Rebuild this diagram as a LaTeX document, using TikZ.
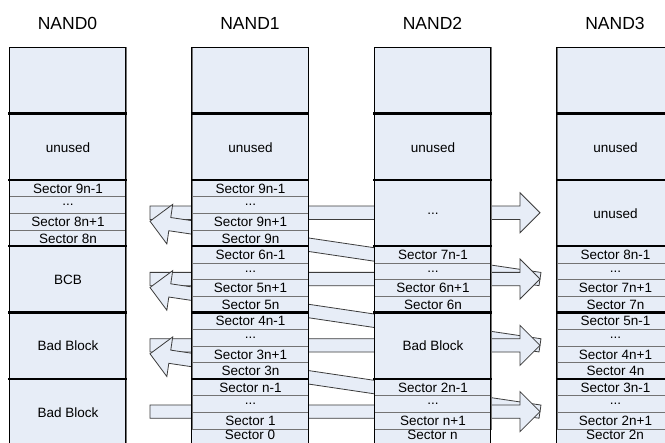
\documentclass[tikz,border=0pt]{standalone}
\usepackage{fontspec}
\setmainfont{Liberation Sans}
\usetikzlibrary{calc}
\definecolor{cellblue}{RGB}{231,237,247}
\definecolor{rowgray}{RGB}{115,115,115}
\definecolor{arrowgray}{RGB}{60,60,60}
\newcommand\secfont{\fontsize{13.5}{14}\selectfont}
\newcommand\labfont{\fontsize{17.5}{18}\selectfont}
\tikzset{
  cell/.style={draw=rowgray, line width=0.9pt, fill=cellblue, minimum width=116.4pt,
    minimum height=16.575pt, inner sep=0pt, anchor=north west, font=\secfont},
  bigcell/.style={cell, minimum height=66.3pt},
  celltext/.style={inner sep=0pt, font=\secfont},
  colframe/.style={draw=black, line width=0.9pt},
  blockline/.style={draw=black, line width=2.2pt},
  fatarrowsty/.style={fill=cellblue, draw=arrowgray, line width=0.8pt, line join=miter},
  nandlabel/.style={font=\labfont, inner sep=0pt}
}
% fat block arrow from #2 to #3, helper coordinate prefix #1
\newcommand\fatarrow[3]{%
  \coordinate (#1base) at ($(#3)!20pt!(#2)$);
  \draw[fatarrowsty] ($(#2)!6.67pt!90:(#3)$) -- ($(#1base)!6.67pt!90:(#3)$)
    -- ($(#1base)!20pt!90:(#3)$) -- (#3) -- ($(#1base)!20pt!-90:(#3)$)
    -- ($(#1base)!6.67pt!-90:(#3)$) -- ($(#2)!6.67pt!-90:(#3)$) -- cycle;
}
\newcommand\bigblk[4]{% name, col, block, text
  \node[bigcell] (#1) at ({9.3+182.5*#2},{47.3+66.3*#3}) {#4};
}
\newcommand\rowblk[7]{% name, col, block, four texts
  \node[cell] (#1a) at ({9.3+182.5*#2},{47.3+66.3*#3}) {#4};
  \node[cell] (#1b) at ({9.3+182.5*#2},{47.3+66.3*#3+16.575}) {#5};
  \node[cell] (#1c) at ({9.3+182.5*#2},{47.3+66.3*#3+33.15}) {#6};
  \node[cell] (#1d) at ({9.3+182.5*#2},{47.3+66.3*#3+49.725}) {#7};
}
% bottom block, whose last row is cut by the picture's lower edge
\newcommand\rowblklast[6]{% name, col, four texts
  \fill[cellblue] ({9.3+182.5*#2},{378.8+49.725}) rectangle ({9.3+182.5*#2+116.4},445.1);
  \node[cell] (#1a) at ({9.3+182.5*#2},{378.8}) {#3};
  \node[cell] (#1b) at ({9.3+182.5*#2},{378.8+16.575}) {#4};
  \node[cell] (#1c) at ({9.3+182.5*#2},{378.8+33.15}) {#5};
  \node[celltext] (#1d) at ({9.3+182.5*#2+58.2},434.6) {#6};
}
\newcommand\colborder[1]{%
  \draw[colframe] ({9.3+182.5*#1},47.3) rectangle ({9.3+182.5*#1+116.4},445.1);
  \foreach \k in {1,...,5}{
    \draw[blockline] ({9.3+182.5*#1-1},{47.3+66.3*\k}) -- ({9.3+182.5*#1+117.4},{47.3+66.3*\k});
  }
}
\begin{document}
\begin{tikzpicture}[x=1pt,y=-1pt]
\useasboundingbox (0,0) rectangle (665,443);
\clip (0,0) rectangle (665,443);
\fill[white] (0,0) rectangle (665,443);

% arrow end points
\coordinate (h2s) at (150,212.75); \coordinate (h2t) at (540,212.75);
\coordinate (h3s) at (150,279.05); \coordinate (h3t) at (540,279.05);
\coordinate (h4s) at (150,345.35); \coordinate (h4t) at (540,345.35);
\coordinate (h5s) at (150,411.65); \coordinate (h5t) at (540,411.65);
\coordinate (t3s) at (540,279.05); \coordinate (t3t) at (150,221.2);
\coordinate (t4s) at (540,345.35); \coordinate (t4t) at (150,287.5);
\coordinate (t5s) at (540,411.65); \coordinate (t5t) at (150,353.8);

\fatarrow{ah2}{h2s}{h2t}
\fatarrow{at3}{t3s}{t3t}
\fatarrow{ah3}{h3s}{h3t}
\fatarrow{at4}{t4s}{t4t}
\fatarrow{ah4}{h4s}{h4t}
\fatarrow{at5}{t5s}{t5t}
\fatarrow{ah5}{h5s}{h5t}

% NAND0
\bigblk{c0b0}{0}{0}{}
\bigblk{c0b1}{0}{1}{unused}
\rowblk{c0b2}{0}{2}{Sector 9n-1}{...}{Sector 8n+1}{Sector 8n}
\bigblk{c0b3}{0}{3}{BCB}
\bigblk{c0b4}{0}{4}{Bad Block}
\bigblk{c0b5}{0}{5}{Bad Block}
\colborder{0}
% NAND1
\bigblk{c1b0}{1}{0}{}
\bigblk{c1b1}{1}{1}{unused}
\rowblk{c1b2}{1}{2}{Sector 9n-1}{...}{Sector 9n+1}{Sector 9n}
\rowblk{c1b3}{1}{3}{Sector 6n-1}{...}{Sector 5n+1}{Sector 5n}
\rowblk{c1b4}{1}{4}{Sector 4n-1}{...}{Sector 3n+1}{Sector 3n}
\rowblklast{c1b5}{1}{Sector n-1}{...}{Sector 1}{Sector 0}
\colborder{1}
% NAND2
\bigblk{c2b0}{2}{0}{}
\bigblk{c2b1}{2}{1}{unused}
\bigblk{c2b2}{2}{2}{...}
\rowblk{c2b3}{2}{3}{Sector 7n-1}{...}{Sector 6n+1}{Sector 6n}
\bigblk{c2b4}{2}{4}{Bad Block}
\rowblklast{c2b5}{2}{Sector 2n-1}{...}{Sector n+1}{Sector n}
\colborder{2}
% NAND3
\bigblk{c3b0}{3}{0}{}
\bigblk{c3b1}{3}{1}{unused}
\bigblk{c3b2}{3}{2}{unused}
\rowblk{c3b3}{3}{3}{Sector 8n-1}{...}{Sector 7n+1}{Sector 7n}
\rowblk{c3b4}{3}{4}{Sector 5n-1}{...}{Sector 4n+1}{Sector 4n}
\rowblklast{c3b5}{3}{Sector 3n-1}{...}{Sector 2n+1}{Sector 2n}
\colborder{3}

% labels
\node[nandlabel] (lab0) at (67.5,23) {NAND0};
\node[nandlabel] (lab1) at (250,23) {NAND1};
\node[nandlabel] (lab2) at (432.5,23) {NAND2};
\node[nandlabel] (lab3) at (615,23) {NAND3};
\end{tikzpicture}
\end{document}
